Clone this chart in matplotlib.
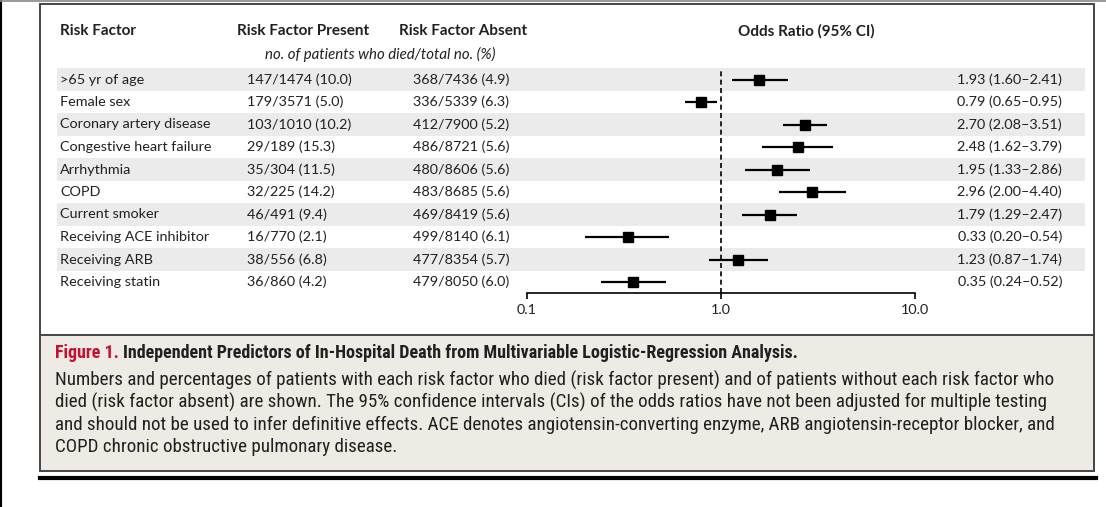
import matplotlib
matplotlib.use("Agg")
import matplotlib.pyplot as plt
from matplotlib.patches import Rectangle

# data
factors = [">65 yr of age", "Female sex", "Coronary artery disease",
           "Congestive heart failure", "Arrhythmia", "COPD", "Current smoker",
           "Receiving ACE inhibitor", "Receiving ARB", "Receiving statin"]
present = ["147/1474 (10.0)", "179/3571 (5.0)", "103/1010 (10.2)", "29/189 (15.3)",
           "35/304 (11.5)", "32/225 (14.2)", "46/491 (9.4)", "16/770 (2.1)",
           "38/556 (6.8)", "36/860 (4.2)"]
absent = ["368/7436 (4.9)", "336/5339 (6.3)", "412/7900 (5.2)", "486/8721 (5.6)",
          "480/8606 (5.6)", "483/8685 (5.6)", "469/8419 (5.6)", "499/8140 (6.1)",
          "477/8354 (5.7)", "479/8050 (6.0)"]
# plotted marks (first row is drawn left of its label value)
odds = [1.57, 0.79, 2.70, 2.48, 1.95, 2.96, 1.79, 0.33, 1.23, 0.35]
ci_low = [1.14, 0.65, 2.08, 1.62, 1.33, 2.00, 1.29, 0.20, 0.87, 0.24]
ci_high = [2.21, 0.95, 3.51, 3.79, 2.86, 4.40, 2.47, 0.54, 1.74, 0.52]
or_text = ["1.93 (1.60\u20132.41)", "0.79 (0.65\u20130.95)", "2.70 (2.08\u20133.51)",
           "2.48 (1.62\u20133.79)", "1.95 (1.33\u20132.86)", "2.96 (2.00\u20134.40)",
           "1.79 (1.29\u20132.47)", "0.33 (0.20\u20130.54)", "1.23 (0.87\u20131.74)",
           "0.35 (0.24\u20130.52)"]
xticks = [0.1, 1.0, 10.0]
xtick_labels = ["0.1", "1.0", "10.0"]

caption_label = "Figure 1."
caption_title = "Independent Predictors of In-Hospital Death from Multivariable Logistic-Regression Analysis."
caption_lines = [
    "Numbers and percentages of patients with each risk factor who died (risk factor present) and of patients without each risk factor who",
    "died (risk factor absent) are shown. The 95% confidence intervals (CIs) of the odds ratios have not been adjusted for multiple testing",
    "and should not be used to infer definitive effects. ACE denotes angiotensin-converting enzyme, ARB angiotensin-receptor blocker, and",
    "COPD chronic obstructive pulmonary disease.",
]

W, H = 1106, 507
TXT = "#231f20"
TAB_FONT = ["Lato", "DejaVu Sans"]
CAP_FONT = ["Roboto Condensed", "DejaVu Sans Condensed", "Liberation Sans Narrow",
            "Open Sans Condensed", "Roboto", "DejaVu Sans"]

fig = plt.figure(figsize=(W / 100, H / 100), dpi=100)
bg = fig.add_axes([0, 0, 1, 1])
bg.set_xlim(0, W)
bg.set_ylim(H, 0)
bg.axis("off")
renderer = fig.canvas.get_renderer()

row0, rowh = 79.5, 22.5

# frame and caption box
bg.plot([0.8, 0.8], [0, H], color="black", lw=1.5)
bg.plot([0, W], [1, 1], color="#888888", lw=1.2)
bg.add_patch(Rectangle((40, 335), 1054, 136, facecolor="#eeebe5", edgecolor="none"))
bg.add_patch(Rectangle((40, 4), 1054, 467, facecolor="none", edgecolor="#444444", lw=1.4))
bg.plot([40, 1094], [335, 335], color="#444444", lw=1.4)
bg.plot([40, 1096], [478, 478], color="black", lw=3)

# shaded rows
for i in range(len(factors)):
    if i % 2 == 0:
        bg.add_patch(Rectangle((57, row0 + i * rowh - rowh / 2), 1028, rowh,
                               facecolor="#ebebeb", edgecolor="none"))

# headers
hdr = dict(fontsize=11, fontweight="bold", family=TAB_FONT, color=TXT, va="center")
bg.text(60, 31, "Risk Factor", **hdr)
bg.text(303, 31, "Risk Factor Present", ha="center", **hdr)
bg.text(463, 31, "Risk Factor Absent", ha="center", **hdr)
bg.text(806, 31, "Odds Ratio (95% CI)", ha="center", **hdr)
bg.text(380, 54, "no. of patients who died/total no. (%)", fontsize=10.8, style="italic",
        family=TAB_FONT, color=TXT, va="center", ha="center")

# table columns
cell = dict(fontsize=10.4, family=TAB_FONT, color=TXT, va="center")
for i in range(len(factors)):
    y = row0 + i * rowh
    bg.text(60, y, factors[i], **cell)
    bg.text(247, y, present[i], **cell)
    bg.text(413, y, absent[i], **cell)
    bg.text(1062, y, or_text[i], ha="right", **cell)


def fit(txt, target, size=12.5):
    # shrink font so the line spans about the same width as in the reference
    w = txt.get_window_extent(renderer).width
    txt.set_fontsize(size * target / w)
    return txt


# caption
head = bg.text(55, 353, caption_label + " " + caption_title, fontsize=12.5, fontweight="bold",
               family=CAP_FONT, color=TXT, va="center")
fit(head, 745)
fs_head = head.get_fontsize()
head.set_text(caption_title)
lab = bg.text(55, 353, caption_label + " ", fontsize=fs_head, fontweight="bold",
              family=CAP_FONT, color="#c8102e", va="center")
lw_lab = lab.get_window_extent(renderer).width
head.set_x(55 + lw_lab)

body = [bg.text(55, 380 + k * 22.4, line, fontsize=12.5, family=CAP_FONT, color=TXT, va="center")
        for k, line in enumerate(caption_lines)]
fit(body[0], 1008)
for b in body[1:]:
    b.set_fontsize(body[0].get_fontsize())

# forest plot
x0, x1 = 527, 915
ytop = row0 - rowh / 2
ybot = 293
ax = fig.add_axes([x0 / W, 1 - ybot / H, (x1 - x0) / W, (ybot - ytop) / H])
ax.patch.set_visible(False)
ax.set_xscale("log")
ax.set_xlim(0.1, 10)
ax.set_ylim((ybot - row0) / rowh, -0.5)
for s in ["top", "right", "left"]:
    ax.spines[s].set_visible(False)
ax.spines["bottom"].set_linewidth(1.2)
ax.set_yticks([])
ax.set_xticks(xticks)
ax.set_xticklabels(xtick_labels, family=TAB_FONT, fontsize=10.4, color=TXT)
ax.xaxis.set_minor_locator(matplotlib.ticker.NullLocator())
ax.tick_params(axis="x", direction="out", length=4, width=1.2, pad=4)
ax.axvline(1.0, color="black", lw=1.2, ls=(0, (3, 2)))

ypos = list(range(len(factors)))
ax.hlines(ypos, ci_low, ci_high, color="black", lw=1.6)
ax.plot(odds, ypos, "s", color="black", markersize=7.5)

fig.savefig("out.png", dpi=100)
